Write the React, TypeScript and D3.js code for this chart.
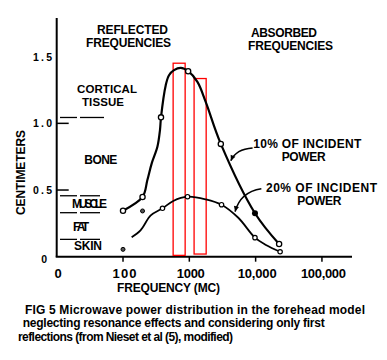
import * as d3 from 'd3'

// frequency (MC) vs depth (cm)
const curve10 = [
  [100, 0.345], [197, 0.448], [233, 0.575], [271, 0.7], [330, 0.824], [361, 0.95],
  [374, 1.045], [441, 1.286], [494, 1.361], [588, 1.399], [745, 1.416], [960, 1.391],
  [1325, 1.311], [1766, 1.161], [2985, 0.846], [9780, 0.326], [22600, 0.095],
]
const markers10 = [[100, 0.345], [197, 0.448], [374, 1.045], [960, 1.391], [2985, 0.846], [22600, 0.095]]
const filled10 = [[9780, 0.326]]

const curve20 = [
  [135, 0.146], [185, 0.2], [262, 0.31], [394, 0.363], [572, 0.418], [940, 0.45],
  [1775, 0.43], [3060, 0.39], [5480, 0.292], [9770, 0.143], [14300, 0.088], [23400, 0.037],
]
const markers20 = [[394, 0.363], [940, 0.45], [3060, 0.39], [9770, 0.143], [23400, 0.037]]
const strayPoints = [[100, 0.055], [197, 0.343]]

// highlighted bands: [fromMC, toMC, topCm, bottomCm]
const bands = [[570, 865, 1.451, 0.01], [1180, 1795, 1.336, 0.02]]

const xTicks = [10, 100, 1000, 10000, 100000]
const xTickLabels = ['0', '100', '1000', '10,000', '100,000']
const xTickWidths = [6, 24, 28, 39, 45]
const yTicks = [0, 0.5, 1.0, 1.5]
const yTickLabels = ['0', '0.5', '1.0', '1.5']
const yTickMarks = [0.5, 1.0]

// tissue layer boundaries (cm)
const layerLines = [1.044, 0.457, 0.33, 0.13]

const FONT = "'Liberation Sans', Arial, sans-serif"

type LabelProps = {x: number; y: number; text: string; w?: number; size?: number; anchor?: string}

function Label({x, y, text, w, size = 12, anchor = 'start'}: LabelProps) {
  return (
    <text
      x={x}
      y={y}
      fontSize={size}
      fontWeight={700}
      textAnchor={anchor}
      textLength={w}
      lengthAdjust={'spacing'}
    >
      {text}
    </text>
  )
}

export default function App() {
  const width = 387
  const height = 360

  const x = d3.scaleLog().domain([10, 284000]).range([56.7, 352])
  const y = d3.scaleLinear().domain([0, 1.79]).range([256.7, 18])

  const line = d3.line<number[]>()
    .x(d => x(d[0]))
    .y(d => y(d[1]))
    .curve(d3.curveCatmullRom.alpha(0.5))

  const arrows = [
    {from: [9000, 0.815], ctrl: [5060, 0.807], tip: [4230, 0.72]},
    {from: [12200, 0.51], ctrl: [5850, 0.485], tip: [4900, 0.338]},
  ]

  return (
    <svg
      width={width}
      height={height}
      viewBox={`0 0 ${width} ${height}`}
      style={{position: 'absolute', left: 0, top: 0, background: '#fff'}}
      fontFamily={FONT}
    >
      <rect width={width} height={height} fill={'#fff'} />

      {/* axes */}
      <line x1={x(10)} x2={x(10)} y1={y(1.79)} y2={y(0)} stroke={'#000'} strokeWidth={2} />
      <line x1={x(10) - 1} x2={x(284000)} y1={y(0)} y2={y(0)} stroke={'#000'} strokeWidth={2} />
      {yTickMarks.map(v => (
        <line key={v} x1={x(10)} x2={x(10) + 12} y1={y(v)} y2={y(v)} stroke={'#000'} strokeWidth={1.5} />
      ))}
      {xTicks.slice(1).map(t => (
        <line key={t} x1={x(t)} x2={x(t)} y1={y(0)} y2={y(0) + 5} stroke={'#000'} strokeWidth={1.5} />
      ))}
      {yTicks.map((v, i) => (
        <Label key={v} x={v === 0 ? 47 : 52} y={y(v) + (v === 0 ? 6 : 4)} text={yTickLabels[i]} size={10.5}
          w={v === 0 ? undefined : 19} anchor={'end'} />
      ))}
      {xTicks.map((t, i) => (
        <Label key={t} x={x(t) + 1.5} y={278} text={xTickLabels[i]} size={13} w={xTickWidths[i]} anchor={'middle'} />
      ))}
      <Label x={117} y={292} text={'FREQUENCY   (MC)'} w={103} />
      <text
        transform={'translate(25, 172.5) rotate(-90)'}
        fontSize={12}
        fontWeight={700}
        textAnchor={'middle'}
        textLength={85}
        lengthAdjust={'spacing'}
      >
        CENTIMETERS
      </text>

      {/* tissue layers */}
      {layerLines.map(v => (
        <g key={v} stroke={'#000'} strokeWidth={1.3}>
          <line x1={60} x2={77} y1={y(v)} y2={y(v)} />
          <line x1={80} x2={v > 1 ? 104 : 100} y1={y(v)} y2={y(v)} />
        </g>
      ))}
      <Label x={77} y={93} text={'CORTICAL'} w={60} size={11.5} />
      <Label x={82} y={105.5} text={'TISSUE'} w={42} size={11.5} />
      <Label x={84.3} y={164} text={'BONE'} w={33} />
      <Label x={72} y={208.3} text={'MUSCLE'} w={35} />
      <Label x={73} y={231} text={'FAT'} w={16} />
      <Label x={74} y={250} text={'SKIN'} w={28} />

      <Label x={97} y={34} text={'REFLECTED'} w={71} />
      <Label x={86} y={47} text={'FREQUENCIES'} w={85} />
      <Label x={251} y={37} text={'ABSORBED'} w={66} />
      <Label x={248} y={50} text={'FREQUENCIES'} w={85} />

      {/* bands */}
      {bands.map(([a, b, top, bottom]) => (
        <rect
          key={a}
          x={x(a)}
          y={y(top)}
          width={x(b) - x(a)}
          height={y(bottom) - y(top)}
          fill={'none'}
          stroke={'#ff0000'}
          strokeWidth={1.3}
        />
      ))}

      {/* curves */}
      <path d={line(curve10) ?? undefined} fill={'none'} stroke={'#000'} strokeWidth={2.2} />
      <path d={line(curve20) ?? undefined} fill={'none'} stroke={'#000'} strokeWidth={1.8} />
      {markers10.map(([f, v]) => (
        <circle key={f} cx={x(f)} cy={y(v)} r={2.6} fill={'#fff'} stroke={'#000'} strokeWidth={1.3} />
      ))}
      {filled10.map(([f, v]) => (
        <circle key={f} cx={x(f)} cy={y(v)} r={3} fill={'#000'} />
      ))}
      {markers20.map(([f, v]) => (
        <circle key={f} cx={x(f)} cy={y(v)} r={2.2} fill={'#fff'} stroke={'#000'} strokeWidth={1.2} />
      ))}
      {strayPoints.map(([f, v]) => (
        <circle key={f} cx={x(f)} cy={y(v)} r={2} fill={'#555'} stroke={'#000'} strokeWidth={1} />
      ))}

      {/* annotations */}
      {arrows.map(({from, ctrl, tip}, i) => {
        const [x0, y0] = [x(from[0]), y(from[1])]
        const [cx, cy] = [x(ctrl[0]), y(ctrl[1])]
        const [tx, ty] = [x(tip[0]), y(tip[1])]
        const ang = Math.atan2(ty - cy, tx - cx)
        const len = 6
        const spread = 0.45
        const p1 = [tx - len * Math.cos(ang - spread), ty - len * Math.sin(ang - spread)]
        const p2 = [tx - len * Math.cos(ang + spread), ty - len * Math.sin(ang + spread)]
        return (
          <g key={i}>
            <path d={`M${x0},${y0} Q${cx},${cy} ${tx},${ty}`} fill={'none'} stroke={'#000'} strokeWidth={1.5} />
            <path d={`M${tx},${ty} L${p1[0]},${p1[1]} L${p2[0]},${p2[1]} Z`} fill={'#000'} />
          </g>
        )
      })}
      <Label x={253.3} y={148} text={'10% OF INCIDENT'} w={108} />
      <Label x={281.7} y={161} text={'POWER'} w={44} />
      <Label x={266} y={192} text={'20% OF INCIDENT'} w={111} />
      <Label x={297.3} y={205} text={'POWER'} w={44} />

      {/* caption */}
      <Label x={25} y={313.5} text={'FIG 5  Microwave power distribution in the forehead model'} w={340} />
      <Label x={22.7} y={327.3} text={'neglecting resonance effects and considering only first'} w={302} />
      <Label x={18} y={340.7} text={'reflections   (from Nieset  et al  (5),   modified)'} w={215} />
    </svg>
  )
}
